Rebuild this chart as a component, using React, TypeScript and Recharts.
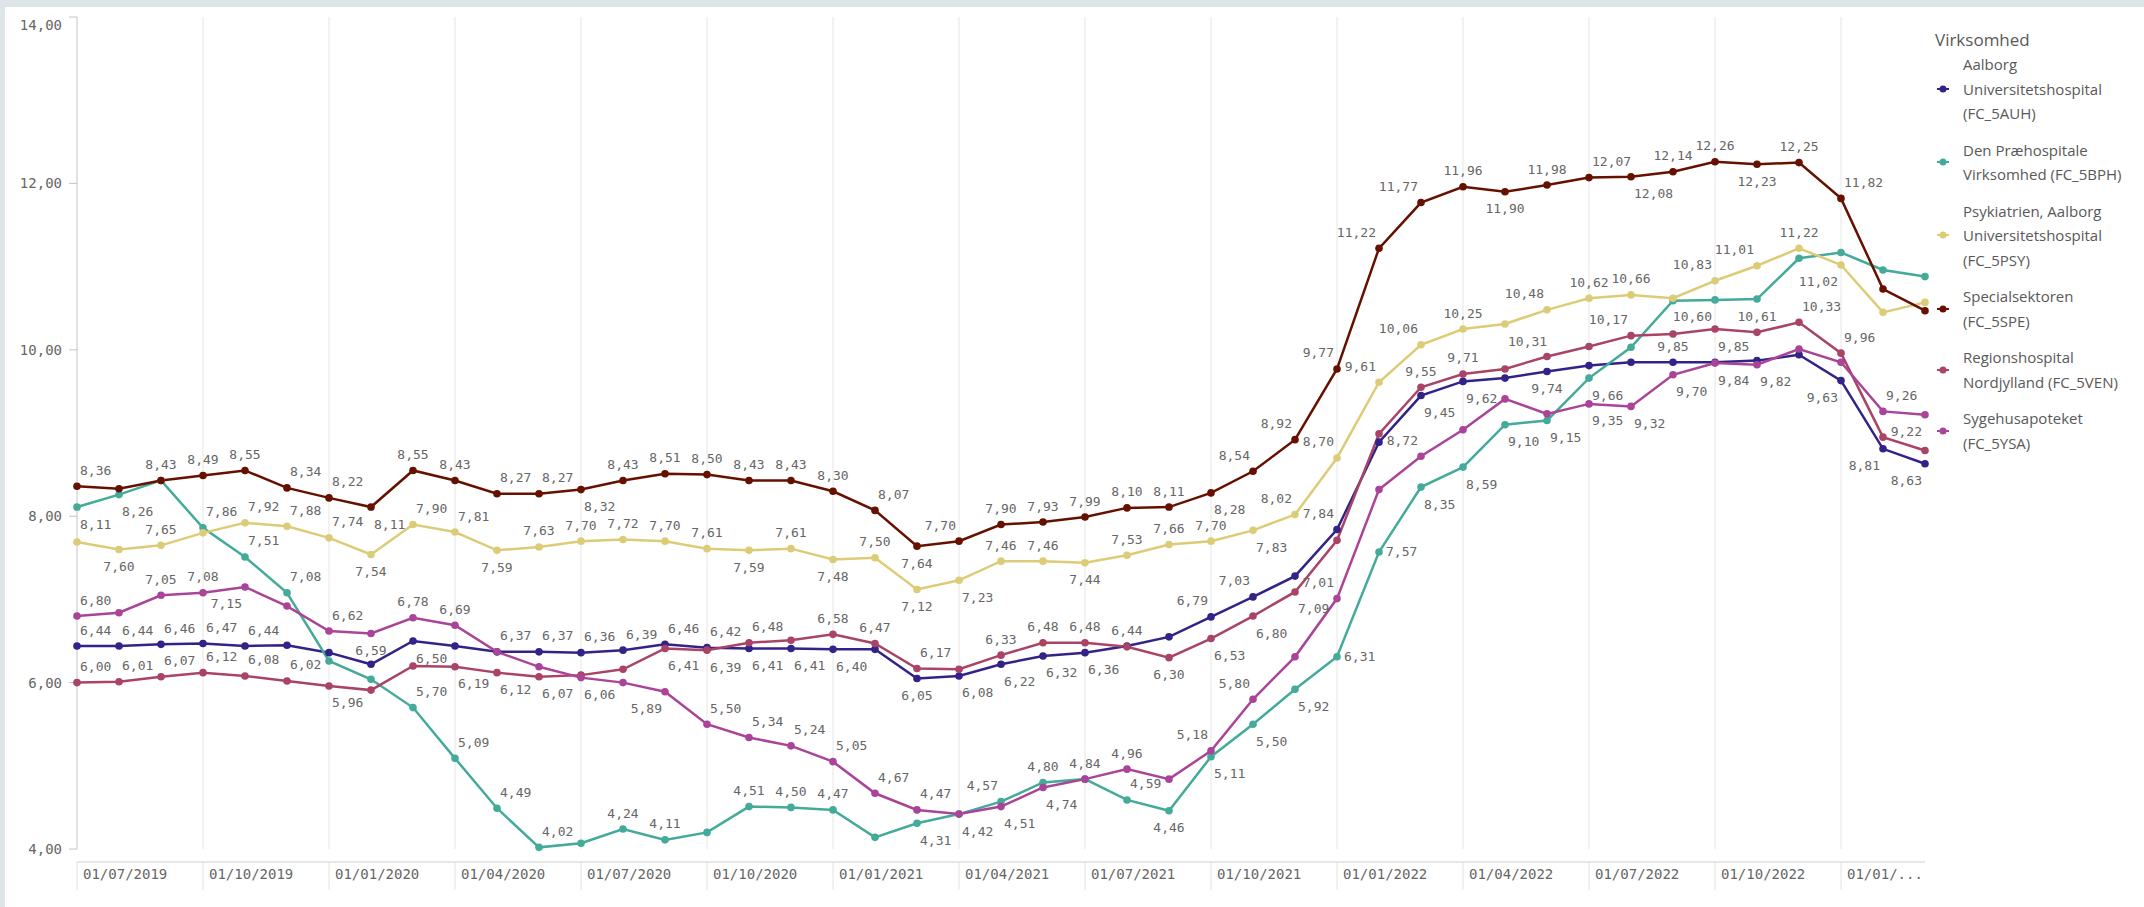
import React from "react";
import { LineChart, Line, XAxis, YAxis, ReferenceLine, LabelList } from "recharts";

const months = [
  "07/2019", "08/2019", "09/2019", "10/2019", "11/2019", "12/2019",
  "01/2020", "02/2020", "03/2020", "04/2020", "05/2020", "06/2020",
  "07/2020", "08/2020", "09/2020", "10/2020", "11/2020", "12/2020",
  "01/2021", "02/2021", "03/2021", "04/2021", "05/2021", "06/2021",
  "07/2021", "08/2021", "09/2021", "10/2021", "11/2021", "12/2021",
  "01/2022", "02/2022", "03/2022", "04/2022", "05/2022", "06/2022",
  "07/2022", "08/2022", "09/2022", "10/2022", "11/2022", "12/2022",
  "01/2023", "02/2023", "03/2023",
];

const aalborg = [
  6.44, 6.44, 6.46, 6.47, 6.44, 6.45, 6.36, 6.22, 6.5, 6.44,
  6.37, 6.37, 6.36, 6.39, 6.46, 6.42, 6.41, 6.41, 6.4, 6.4,
  6.05, 6.08, 6.22, 6.32, 6.36, 6.44, 6.55, 6.79, 7.03, 7.28,
  7.84, 8.89, 9.45, 9.62, 9.66, 9.74, 9.81, 9.85, 9.85, 9.85,
  9.87, 9.94, 9.63, 8.81, 8.63,
];
const praehospital = [
  8.11, 8.26, 8.43, 7.86, 7.51, 7.08, 6.26, 6.04, 5.7, 5.09,
  4.49, 4.02, 4.07, 4.24, 4.11, 4.2, 4.51, 4.5, 4.47, 4.14,
  4.31, 4.42, 4.57, 4.8, 4.84, 4.59, 4.46, 5.11, 5.5, 5.92,
  6.31, 7.57, 8.35, 8.59, 9.1, 9.15, 9.66, 10.03, 10.59, 10.6,
  10.61, 11.1, 11.17, 10.96, 10.88,
];
const psykiatrien = [
  7.69, 7.6, 7.65, 7.8, 7.92, 7.88, 7.74, 7.54, 7.9, 7.81,
  7.59, 7.63, 7.7, 7.72, 7.7, 7.61, 7.59, 7.61, 7.48, 7.5,
  7.12, 7.23, 7.46, 7.46, 7.44, 7.53, 7.66, 7.7, 7.83, 8.02,
  8.7, 9.61, 10.06, 10.25, 10.31, 10.48, 10.62, 10.66, 10.62, 10.83,
  11.01, 11.22, 11.02, 10.45, 10.57,
];
const specialsektoren = [
  8.36, 8.33, 8.43, 8.49, 8.55, 8.34, 8.22, 8.11, 8.55, 8.43,
  8.27, 8.27, 8.32, 8.43, 8.51, 8.5, 8.43, 8.43, 8.3, 8.07,
  7.64, 7.7, 7.9, 7.93, 7.99, 8.1, 8.11, 8.28, 8.54, 8.92,
  9.77, 11.22, 11.77, 11.96, 11.9, 11.98, 12.07, 12.08, 12.14, 12.26,
  12.23, 12.25, 11.82, 10.73, 10.47,
];
const nordjylland = [
  6.0, 6.01, 6.07, 6.12, 6.08, 6.02, 5.96, 5.91, 6.2, 6.19,
  6.12, 6.07, 6.09, 6.16, 6.41, 6.39, 6.48, 6.51, 6.58, 6.47,
  6.17, 6.16, 6.33, 6.48, 6.48, 6.43, 6.3, 6.53, 6.8, 7.09,
  7.71, 8.99, 9.55, 9.71, 9.77, 9.92, 10.04, 10.17, 10.19, 10.25,
  10.21, 10.33, 9.96, 8.95, 8.79,
];
const sygehusapoteket = [
  6.8, 6.84, 7.05, 7.08, 7.15, 6.92, 6.62, 6.59, 6.78, 6.69,
  6.37, 6.19, 6.06, 6.0, 5.89, 5.5, 5.34, 5.24, 5.05, 4.67,
  4.47, 4.42, 4.51, 4.74, 4.84, 4.96, 4.84, 5.18, 5.8, 6.31,
  7.01, 8.32, 8.72, 9.04, 9.41, 9.23, 9.35, 9.32, 9.7, 9.84,
  9.82, 10.01, 9.85, 9.26, 9.22,
];

const series = [
  { key: "AUH", name: "Aalborg\nUniversitetshospital\n(FC_5AUH)", values: aalborg, color: "#332288" },
  { key: "BPH", name: "Den Præhospitale\nVirksomhed (FC_5BPH)", values: praehospital, color: "#44aa99" },
  { key: "PSY", name: "Psykiatrien, Aalborg\nUniversitetshospital\n(FC_5PSY)", values: psykiatrien, color: "#ddcc77" },
  { key: "SPE", name: "Specialsektoren\n(FC_5SPE)", values: specialsektoren, color: "#661100" },
  { key: "VEN", name: "Regionshospital\nNordjylland (FC_5VEN)", values: nordjylland, color: "#aa4466" },
  { key: "YSA", name: "Sygehusapoteket\n(FC_5YSA)", values: sygehusapoteket, color: "#aa4499" },
];

// value label spot per point:
// a/b = above/below centred, A/B = above/below to the right, L/M = above/below to the left,
// r = right of the point, . = hidden
const labelSpots: Record<string, string> = {
  AUH: "AAAAA...B." + "AAAAAABBB." + "bBBBBa.LL." + "L.BB.b..aA" + "..MMM",
  BPH: "BB.AAA..AA" + "AA.aa.aaa." + "BBLa.AbBBB" + "rrBBBBB..M" + "b....",
  PSY: ".ba.AAAbAA" + "baaaaababa" + "bBaabaaaBL" + "LLLaBLaa.L" + "LaM..",
  SPE: "A.aaaAABaa" + "AABaaaaaaA" + "bLaaaaaBLL" + "LLLabaABaa" + "baA..",
  VEN: "AAAAAAB..B" + "BB..BBA.aa" + "A.aaa.bBBB" + "..aa...L.." + ".AA..",
  YSA: "A.aaM.Abaa" + "..B.MAAAAA" + "A.BBaa.LL." + "L.L...BBBB" + "B..AM",
};

const yTicks = [4, 6, 8, 10, 12, 14];

const CHART_W = 1930;
const CHART_H = 900;
const MARGIN_RIGHT = 10;
const PLOT_RIGHT = CHART_W - MARGIN_RIGHT;
const MONO = "'DejaVu Sans Mono', monospace";
const TEXT = "#666666";

const data = months.map((m, i) => {
  const row: Record<string, number | string> = { i, month: m };
  series.forEach((s) => {
    row[s.key] = s.values[i];
  });
  return row;
});

const quarterIdx = months
  .map((m, i) => (["01", "04", "07", "10"].includes(m.slice(0, 2)) ? i : -1))
  .filter((i) => i >= 0);

const fmt = (v: number) => v.toFixed(2).replace(".", ",");

function XTick({ x, y, payload }: any) {
  let label = "01/" + months[payload.value];
  const charW = 8.43;
  const avail = PLOT_RIGHT - (x + 6);
  if (label.length * charW > avail) {
    label = label.slice(0, Math.max(0, Math.floor(avail / charW) - 3)) + "...";
  }
  return (
    <g>
      <line x1={x} x2={x} y1={y} y2={y + 28} stroke="#e2e2e2" />
      <text x={x + 6} y={y + 17} fontFamily={MONO} fontSize={14} fill={TEXT}>
        {label}
      </text>
    </g>
  );
}

function YTick({ x, y, payload }: any) {
  const dy = payload.value === 14 ? 8 : 0;
  return (
    <text x={x} y={y + dy} textAnchor="end" dominantBaseline="central" fontFamily={MONO} fontSize={14} fill={TEXT}>
      {fmt(payload.value)}
    </text>
  );
}

const valueLabel = (key: string) => (props: any) => {
  const { x, y, value, index } = props;
  const spot = labelSpots[key][index];
  if (!spot || spot === "." || x == null || y == null) return null;
  let tx = Number(x);
  let ty = Number(y);
  let anchor: "middle" | "start" | "end" = "middle";
  if ("aAL".includes(spot)) ty -= 16;
  if ("bBM".includes(spot)) ty += 17;
  if ("AB".includes(spot)) {
    tx += 3;
    anchor = "start";
  }
  if ("LM".includes(spot)) {
    tx -= 3;
    anchor = "end";
  }
  if (spot === "r") {
    tx += 7;
    anchor = "start";
  }
  return (
    <text
      key={`${key}-${index}`}
      x={tx}
      y={ty}
      textAnchor={anchor}
      dominantBaseline="central"
      fontFamily={MONO}
      fontSize={13}
      fill={TEXT}
    >
      {fmt(Number(value))}
    </text>
  );
};

function LegendBox() {
  return (
    <>
      <div
        style={{
          position: "absolute",
          left: 1930,
          top: 20,
          fontFamily: "'Open Sans', sans-serif",
          color: "#595959",
          fontSize: 17,
          lineHeight: "26px",
        }}
      >
        Virksomhed
      </div>
      <div
        style={{
          position: "absolute",
          left: 1930,
          top: 45,
          width: 210,
          display: "flex",
          flexDirection: "column",
          gap: 12,
          fontFamily: "'Open Sans', sans-serif",
          color: "#595959",
        }}
      >
        {series.map((s) => (
          <div key={s.key} style={{ display: "flex", alignItems: "center" }}>
            <svg width={28} height={10} style={{ flex: "none" }}>
              <line x1={2} x2={14} y1={5} y2={5} stroke={s.color} strokeWidth={2} />
              <circle cx={8} cy={5} r={3.5} fill={s.color} />
            </svg>
            <div style={{ fontSize: 15, lineHeight: "24.5px", whiteSpace: "pre-line" }}>{s.name}</div>
          </div>
        ))}
      </div>
    </>
  );
}

export default function App() {
  return (
    <div style={{ width: 2144, height: 907, background: "#dde5e9", position: "relative", overflow: "hidden" }}>
      <style>{`body{margin:0}`}</style>
      <div style={{ position: "absolute", left: 5, top: 7, width: 2139, height: 900, background: "#ffffff" }}>
        <LineChart width={CHART_W} height={CHART_H} data={data} margin={{ top: 10, right: MARGIN_RIGHT, bottom: 0, left: 0 }}>
          <XAxis
            dataKey="i"
            type="number"
            domain={[0, months.length - 1]}
            ticks={quarterIdx}
            interval={0}
            tick={<XTick />}
            tickLine={false}
            tickSize={0}
            tickMargin={0}
            axisLine={{ stroke: "#cfcfcf" }}
            height={45}
          />
          <YAxis
            type="number"
            domain={[3.844, 14]}
            ticks={yTicks}
            interval={0}
            width={72}
            axisLine={false}
            tickLine={{ stroke: "#c4c4c4" }}
            tickSize={8}
            tickMargin={7}
            tick={<YTick />}
            allowDataOverflow
          />
          {quarterIdx
            .filter((q) => q > 0)
            .map((q) => (
              <ReferenceLine
                key={`g${q}`}
                segment={[{ x: q, y: 4 }, { x: q, y: 14 }]}
                stroke="#e6e6e6"
                strokeWidth={1}
              />
            ))}
          <ReferenceLine segment={[{ x: 0, y: 4 }, { x: 0, y: 14 }]} stroke="#c4c4c4" strokeWidth={1} />
          {series.map((s) => (
            <Line
              key={s.key}
              type="linear"
              dataKey={s.key}
              stroke={s.color}
              strokeWidth={2.5}
              dot={{ r: 3.8, fill: s.color, stroke: s.color, strokeWidth: 0 }}
              activeDot={false}
              isAnimationActive={false}
            />
          ))}
          {series.map((s) => (
            <Line
              key={`lbl-${s.key}`}
              type="linear"
              dataKey={s.key}
              stroke="none"
              dot={false}
              activeDot={false}
              legendType="none"
              isAnimationActive={false}
            >
              <LabelList dataKey={s.key} content={valueLabel(s.key)} />
            </Line>
          ))}
        </LineChart>
        <LegendBox />
      </div>
    </div>
  );
}
